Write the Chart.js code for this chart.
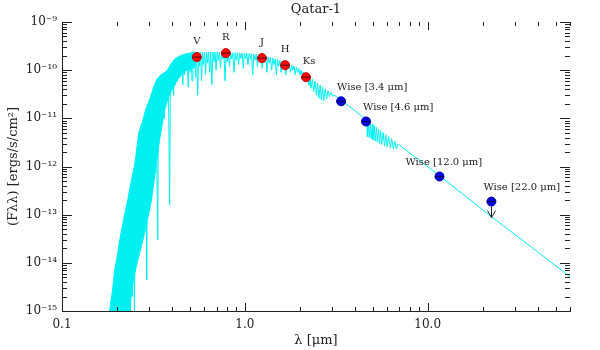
<!DOCTYPE html>
<html>
<head>
<meta charset="utf-8">
<title>Qatar-1</title>
<script src="https://cdn.jsdelivr.net/npm/chart.js@4.4.0/dist/chart.umd.min.js"></script>
<style>
  body { margin: 0; background: #fff; }
</style>
</head>
<body>
<canvas id="sed" width="600" height="350"></canvas>
<script>
const chartTitle = 'Qatar-1';

// optical / near-IR photometry
const photBands = ['V', 'R', 'J', 'H', 'Ks'];
const photWave = [0.546, 0.787, 1.24, 1.66, 2.16];
const photFlux = [1.87e-10, 2.26e-10, 1.78e-10, 1.27e-10, 7.15e-11];

// WISE photometry, the 22 micron one is an upper limit
const wiseBands = ['Wise [3.4 μm]', 'Wise [4.6 μm]', 'Wise [12.0 μm]', 'Wise [22.0 μm]'];
const wiseWave = [3.36, 4.6, 11.6, 22.3];
const wiseFlux = [2.26e-11, 8.6e-12, 6.2e-13, 1.87e-13];
const w4Limit = 8.7e-14;

// model spectrum: continuum tops and line cores
const specWave = [
  0.236, 0.237, 0.240, 0.243, 0.246, 0.249, 0.252, 0.256, 0.258, 0.262,
  0.264, 0.268, 0.271, 0.276, 0.279, 0.284, 0.287, 0.291, 0.294, 0.298,
  0.302, 0.306, 0.310, 0.314, 0.317, 0.322, 0.326, 0.334, 0.337, 0.341,
  0.347, 0.352, 0.358, 0.363, 0.369, 0.375, 0.381, 0.388, 0.392, 0.397,
  0.403, 0.408, 0.413, 0.418, 0.423, 0.428, 0.433, 0.438, 0.443, 0.448,
  0.453, 0.458, 0.463, 0.468, 0.473, 0.478, 0.484, 0.490, 0.496, 0.502,
  0.508, 0.514, 0.520, 0.526, 0.532, 0.538, 0.545, 0.552, 0.559, 0.566,
  0.573, 0.580, 0.587, 0.594, 0.602, 0.610, 0.618, 0.626, 0.634, 0.642,
  0.651, 0.660, 0.669, 0.678, 0.687, 0.696, 0.706, 0.716, 0.726, 0.736,
  0.746, 0.757, 0.768, 0.779, 0.790, 0.801, 0.812, 0.824, 0.836, 0.848,
  0.860, 0.872, 0.885, 0.898, 0.911, 0.924, 0.938, 0.952, 0.966, 0.980,
  0.995, 1.010, 1.025, 1.040, 1.056, 1.072, 1.088, 1.104, 1.120, 1.137,
  1.154, 1.171, 1.189, 1.207, 1.225, 1.243, 1.262, 1.281, 1.300, 1.320,
  1.340, 1.360, 1.380, 1.401, 1.422, 1.443, 1.465, 1.487, 1.509, 1.532,
  1.555, 1.578, 1.602, 1.626, 1.650, 1.675, 1.700, 1.725, 1.751, 1.777,
  1.804, 1.831, 1.858, 1.886, 1.914, 1.943, 1.972, 2.00, 2.03, 2.06,
  2.09, 2.12, 2.15, 2.18, 2.21, 2.24, 2.27, 2.30, 2.34, 2.38,
  2.42, 2.46, 2.50, 2.54, 2.58, 2.62, 2.66, 2.70, 2.75, 2.80,
  2.85, 2.90, 2.95, 3.02, 3.10, 3.32, 3.50, 4.00, 4.40, 4.60,
  4.66, 4.68, 4.75, 4.78, 4.86, 4.90, 4.98, 5.02, 5.10, 5.16,
  5.24, 5.30, 5.38, 5.45, 5.52, 5.60, 5.70, 5.80, 5.90, 6.00,
  6.10, 6.25, 6.35, 6.50, 6.60, 6.75, 6.89, 11.56, 22.0, 62.0
];
const specFlux = [
  4.0e-13, 8e-16, 5.4e-13, 2e-15, 8e-13, 8e-16, 1.3e-12, 1.0e-14, 2.5e-12, 3e-14,
  4.5e-12, 2e-14, 7e-12, 8e-14, 9e-12, 3e-13, 1.5e-11, 4.4e-15, 1.8e-11, 2e-13,
  2.5e-11, 1e-12, 3.2e-11, 5e-12, 4.4e-11, 1e-12, 5.5e-11, 3e-14, 7e-11, 6e-12,
  8e-11, 1.5e-11, 8.5e-11, 1e-11, 9.3e-11, 3e-11, 1.05e-10, 1.6e-13, 1.3e-10, 4e-11,
  1.45e-10, 3e-11, 1.7e-10, 5e-11, 1.78e-10, 6e-11, 1.9e-10, 7e-11, 1.97e-10, 9e-11,
  2.05e-10, 5e-11, 2.1e-10, 8e-11, 2.15e-10, 1.0e-10, 2.2e-10, 4.5e-11, 2.25e-10, 9e-11,
  2.27e-10, 6e-11, 2.3e-10, 1.1e-10, 2.35e-10, 7e-11, 2.37e-10, 3e-11, 2.37e-10, 1.2e-10,
  2.37e-10, 6e-11, 2.38e-10, 1.3e-10, 2.38e-10, 8e-11, 2.38e-10, 1.4e-10, 2.38e-10, 9e-11,
  2.38e-10, 5e-11, 2.37e-10, 1.5e-10, 2.37e-10, 1.0e-10, 2.37e-10, 1.6e-10, 2.36e-10, 1.1e-10,
  2.35e-10, 1.7e-10, 2.35e-10, 6e-11, 2.34e-10, 1.5e-10, 2.33e-10, 1.2e-10, 2.32e-10, 1.7e-10,
  2.31e-10, 9e-11, 2.3e-10, 1.6e-10, 2.29e-10, 1.3e-10, 2.28e-10, 1.75e-10, 2.27e-10, 1.1e-10,
  2.26e-10, 1.7e-10, 2.24e-10, 1.3e-10, 2.22e-10, 1.7e-10, 2.2e-10, 8e-11, 2.17e-10, 1.6e-10,
  2.14e-10, 1.2e-10, 2.1e-10, 1.5e-10, 2.05e-10, 1.1e-10, 2.0e-10, 1.45e-10, 1.95e-10, 9e-11,
  1.9e-10, 1.4e-10, 1.84e-10, 1.0e-10, 1.78e-10, 1.3e-10, 1.72e-10, 8e-11, 1.66e-10, 1.2e-10,
  1.6e-10, 9e-11, 1.54e-10, 1.1e-10, 1.48e-10, 8e-11, 1.42e-10, 1.05e-10, 1.36e-10, 9e-11,
  1.28e-10, 1.0e-10, 1.22e-10, 8e-11, 1.15e-10, 9e-11, 1.08e-10, 8e-11, 1.0e-10, 7.5e-11,
  9.1e-11, 7e-11, 8.4e-11, 6e-11, 7.7e-11, 4.8e-11, 7.1e-11, 4.2e-11, 6.5e-11, 3.6e-11,
  5.9e-11, 3.0e-11, 5.35e-11, 2.6e-11, 4.87e-11, 2.4e-11, 4.49e-11, 2.3e-11, 4.1e-11, 2.5e-11,
  3.74e-11, 2.8e-11, 3.45e-11, 2.9e-11, 2.99e-11, 2.49e-11, 2.13e-11, 1.44e-11, 1.085e-11, 9.5e-12,
  9.1e-12, 4.2e-12, 8.6e-12, 4.0e-12, 8.0e-12, 3.8e-12, 7.5e-12, 3.6e-12, 7.0e-12, 3.4e-12,
  6.5e-12, 3.2e-12, 6.0e-12, 3.0e-12, 5.6e-12, 2.85e-12, 5.1e-12, 2.7e-12, 4.6e-12, 2.55e-12,
  4.2e-12, 2.45e-12, 3.75e-12, 2.3e-12, 3.3e-12, 2.3e-12, 2.93e-12, 6.5e-13, 9.5e-14, 4.7e-15
];

// blended UV part of the model, outline (top edge out, bottom edge back)
const bandWave = [
  0.182, 0.189, 0.194, 0.201, 0.207, 0.217, 0.229, 0.240, 0.250, 0.256, 0.263, 0.273,
  0.287, 0.302, 0.317, 0.330, 0.351, 0.374, 0.394, 0.413, 0.440, 0.469, 0.500, 0.532,
  0.532, 0.469, 0.430, 0.388, 0.365, 0.342, 0.325, 0.309, 0.290, 0.273, 0.256, 0.243, 0.234
];
const bandFlux = [
  1.0e-15, 2.74e-15, 7.15e-15, 1.47e-14, 3.0e-14, 7.9e-14, 2.05e-13, 5.4e-13, 1.1e-12, 2.26e-12, 5.1e-12, 7.5e-12,
  1.54e-11, 2.49e-11, 4.43e-11, 6.5e-11, 8.25e-11, 9.5e-11, 1.33e-10, 1.70e-10, 1.96e-10, 2.15e-10, 2.26e-10, 2.37e-10,
  1.15e-10, 9.5e-11, 6.5e-11, 3.16e-11, 1.54e-11, 3.65e-12, 8.66e-13, 2.05e-13, 6.2e-14, 2.37e-14, 9.1e-15, 3.48e-15, 1.0e-15
];

const xTickVals = [0.1, 1, 10];
const xTickText = ['0.1', '1.0', '10.0'];
const yTickVals = [1e-15, 1e-14, 1e-13, 1e-12, 1e-11, 1e-10, 1e-9];
const yTickText = ['10⁻¹⁵', '10⁻¹⁴', '10⁻¹³', '10⁻¹²', '10⁻¹¹', '10⁻¹⁰', '10⁻⁹'];

const pts = (xs, ys) => xs.map((v, i) => ({x: v, y: ys[i]}));
const cyan = '#00f0f2';
const serif = 'DejaVu Serif';

// every 1..9 x 10^n value inside a log scale's range
function logMarks(scale) {
  const out = [];
  const lo = Math.floor(Math.log10(scale.min) + 1e-9);
  const hi = Math.ceil(Math.log10(scale.max) - 1e-9);
  for (let e = lo; e <= hi; e++) {
    for (let m = 1; m <= 9; m++) {
      const v = m * Math.pow(10, e);
      if (v >= scale.min * 0.999 && v <= scale.max * 1.001) out.push({v: v, major: m === 1});
    }
  }
  return out;
}

// inward ticks, bottom/left axis lines, point labels, W4 arrow, title
const sedDecor = {
  id: 'sedDecor',
  afterDraw(chart) {
    const ctx = chart.ctx;
    const area = chart.chartArea;
    const x = chart.scales.x;
    const y = chart.scales.y;
    const top = Math.round(area.top), bot = Math.round(area.bottom);
    const left = Math.round(area.left), right = Math.round(area.right);
    ctx.save();
    ctx.fillStyle = '#222';
    ctx.fillRect(left, top, 1, bot - top + 1);
    ctx.fillRect(left, bot, right - left + 1, 1);
    logMarks(x).forEach(t => {
      const px = Math.round(x.getPixelForValue(t.v));
      const len = t.major ? 8 : 4;
      ctx.fillRect(px, bot - len, 1, len);
      ctx.fillRect(px, top, 1, len);
    });
    logMarks(y).forEach(t => {
      const py = Math.round(y.getPixelForValue(t.v));
      const len = t.major ? 10 : 5;
      ctx.fillRect(left, py, len, 1);
      ctx.fillRect(right - len, py, len, 1);
    });

    ctx.font = '10px "' + serif + '"';
    ctx.textBaseline = 'middle';
    ctx.textAlign = 'center';
    photBands.forEach((b, i) => {
      const dx = b === 'Ks' ? 3 : 0;
      ctx.fillText(b, x.getPixelForValue(photWave[i]) + dx, y.getPixelForValue(photFlux[i]) - 16);
    });
    const wiseShift = [-4, -3, -34, -8];
    ctx.textAlign = 'left';
    wiseBands.forEach((b, i) => {
      ctx.fillText(b, x.getPixelForValue(wiseWave[i]) + wiseShift[i], y.getPixelForValue(wiseFlux[i]) - 14);
    });

    ctx.strokeStyle = '#222';
    ctx.lineWidth = 1;
    const ax = Math.round(x.getPixelForValue(wiseWave[3])) + 0.5;
    const ay0 = y.getPixelForValue(wiseFlux[3]) + 5;
    const ay1 = y.getPixelForValue(w4Limit);
    ctx.beginPath();
    ctx.moveTo(ax, ay0); ctx.lineTo(ax, ay1);
    ctx.moveTo(ax - 4, ay1 - 7); ctx.lineTo(ax, ay1); ctx.lineTo(ax + 4, ay1 - 7);
    ctx.stroke();

    ctx.font = '13px "' + serif + '"';
    ctx.textAlign = 'center';
    ctx.fillText(chartTitle, (area.left + area.right) / 2, 10);
    ctx.restore();
  }
};

new Chart(document.getElementById('sed'), {
  type: 'line',
  data: {
    datasets: [
      { data: pts(photWave, photFlux), showLine: false, pointStyle: 'line', pointRadius: 4.5,
        pointBorderColor: '#500', pointBorderWidth: 1 },
      { data: pts(wiseWave, wiseFlux), showLine: false, pointStyle: 'line', pointRadius: 4.5,
        pointBorderColor: '#000050', pointBorderWidth: 1 },
      { data: pts(photWave, photFlux), showLine: false, pointRadius: 4.5,
        pointBackgroundColor: '#ff0a0a', pointBorderColor: '#c80000', pointBorderWidth: 1 },
      { data: pts(wiseWave, wiseFlux), showLine: false, pointRadius: 4.5,
        pointBackgroundColor: '#0000dd', pointBorderColor: '#0000a0', pointBorderWidth: 1 },
      { data: pts(specWave, specFlux), borderColor: cyan, borderWidth: 1, pointRadius: 0, fill: false },
      { data: pts(bandWave, bandFlux), borderColor: cyan, backgroundColor: cyan, borderWidth: 1,
        pointRadius: 0, fill: 'shape' }
    ]
  },
  options: {
    responsive: false,
    animation: false,
    events: [],
    layout: { padding: { top: 22, right: 30, left: 0, bottom: 0 } },
    plugins: {
      legend: { display: false },
      tooltip: { enabled: false }
    },
    elements: { line: { tension: 0 } },
    scales: {
      x: {
        type: 'logarithmic',
        min: 0.1,
        max: 60,
        grid: { display: false, drawTicks: false },
        border: { display: false },
        afterBuildTicks: s => { s.ticks = xTickVals.map(v => ({value: v})); },
        afterFit: s => { s.height = 39; },
        ticks: {
          autoSkip: false, maxRotation: 0, padding: 7, color: '#222',
          font: { family: serif, size: 12 },
          callback: v => xTickText[xTickVals.indexOf(v)]
        },
        title: {
          display: true, text: 'λ [μm]', color: '#222',
          font: { family: serif, size: 13 },
          padding: { top: 0, bottom: 2 }
        }
      },
      y: {
        type: 'logarithmic',
        min: 1e-15,
        max: 1e-9,
        grid: { display: false, drawTicks: false },
        border: { display: false },
        afterBuildTicks: s => { s.ticks = yTickVals.map(v => ({value: v})); },
        afterFit: s => { s.width = 62; },
        ticks: {
          autoSkip: false, padding: 5, color: '#222',
          font: { family: serif, size: 12 },
          callback: v => yTickText[yTickVals.indexOf(v)]
        },
        title: {
          display: true, text: '(Fλλ) [ergs/s/cm²]', color: '#222',
          font: { family: serif, size: 13 },
          padding: { top: 6, bottom: 0 }
        }
      }
    }
  },
  plugins: [sedDecor]
});
</script>
</body>
</html>
